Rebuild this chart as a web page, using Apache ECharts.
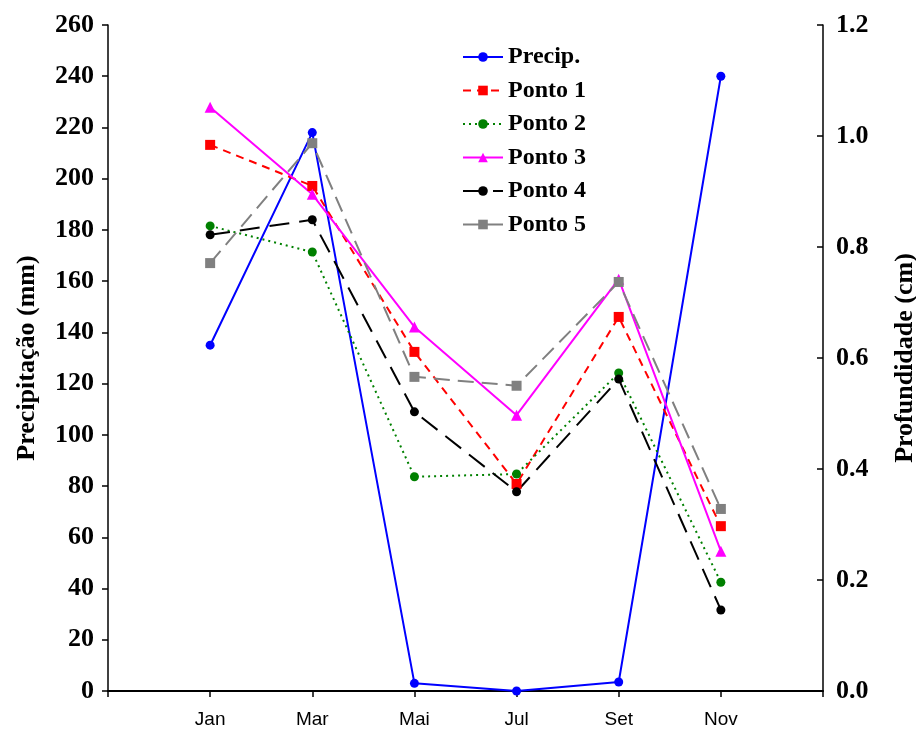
<!DOCTYPE html>
<html>
	<head>
		<meta charset="utf-8">
		<title></title>
		<script src='https://cdn.jsdelivr.net/npm/echarts@6/dist/echarts.min.js'></script>
		<style>
			body{ margin:0; background:#fff; }
			#chart{
				width: 916px;
				height: 729px;
			}
		</style>
	</head>
	<body>
		<div id="chart"></div>
		<script>
            // months (x positions 1..6 inside a 0..7 axis)
            const months = ['Jan', 'Mar', 'Mai', 'Jul', 'Set', 'Nov'];
            // precipitação (mm), left axis
            const precip = [135, 218, 3, 0, 3.5, 240];
            // profundidade (cm), right axis
            const ponto1 = [0.984, 0.910, 0.611, 0.373, 0.674, 0.297];
            const ponto2 = [0.838, 0.791, 0.386, 0.391, 0.573, 0.196];
            const ponto3 = [1.052, 0.895, 0.656, 0.497, 0.742, 0.252];
            const ponto4 = [0.822, 0.849, 0.503, 0.359, 0.562, 0.146];
            const ponto5 = [0.771, 0.987, 0.566, 0.550, 0.737, 0.328];

            const pairs = arr => arr.map((v, i) => [i + 1, v]);
            const serif = "'Liberation Serif', 'DejaVu Serif', serif";

			const chartDom = document.getElementById('chart');
			const chart = echarts.init(chartDom, null, {renderer:'canvas'});

            function line(name, data, yIndex, color, type, symbol, size){
                return {
                    name: name,
                    type: 'line',
                    yAxisIndex: yIndex,
                    data: pairs(data),
                    symbol: symbol,
                    symbolSize: size,
                    itemStyle: { color: color },
                    lineStyle: { color: color, width: 2, type: type },
                    emphasis: { disabled: true }
                };
            }

            option = {
                        animation: false,
                        grid: { left: 108, right: 93, top: 25, bottom: 38, outerBoundsMode: 'none' },
                        legend: {
                            orient: 'vertical',
                            left: 462,
                            top: 45,
                            padding: 0,
                            itemWidth: 40,
                            itemHeight: 12,
                            itemGap: 9.5,
                            textStyle: { fontFamily: serif, fontWeight: 'bold', fontSize: 24, color: '#000' },
                            data: ['Precip.', 'Ponto 1', 'Ponto 2', 'Ponto 3', 'Ponto 4', 'Ponto 5']
                        },
                        xAxis: {
                            type: 'value',
                            min: 0,
                            max: 7,
                            interval: 1,
                            axisLine: { lineStyle: { color: '#000', width: 2 } },
                            axisTick: { show: true, length: 6, lineStyle: { color: '#000', width: 1.5 } },
                            splitLine: { show: false },
                            axisLabel: {
                                margin: 19,
                                fontFamily: "'Liberation Sans', Arial, sans-serif",
                                fontSize: 19,
                                color: '#000',
                                formatter: v => months[v - 1] || ''
                            }
                        },
                        yAxis: [
                            {
                                type: 'value',
                                min: 0,
                                max: 260,
                                interval: 20,
                                name: 'Precipitação (mm)',
                                nameLocation: 'middle',
                                nameRotate: 90,
                                nameGap: 68,
                                nameTextStyle: { fontFamily: serif, fontWeight: 'bold', fontSize: 26, color: '#000' },
                                axisLine: { show: true, lineStyle: { color: '#000', width: 1.5 } },
                                axisTick: { show: true, length: 6, lineStyle: { color: '#000', width: 1.5 } },
                                splitLine: { show: false },
                                axisLabel: { margin: 14, fontFamily: serif, fontWeight: 'bold', fontSize: 26, color: '#000' }
                            },
                            {
                                type: 'value',
                                position: 'right',
                                min: 0,
                                max: 1.2,
                                interval: 0.2,
                                name: 'Profundidade (cm)',
                                nameLocation: 'middle',
                                nameRotate: 90,
                                nameGap: 69,
                                nameTextStyle: { fontFamily: serif, fontWeight: 'bold', fontSize: 26, color: '#000' },
                                axisLine: { show: true, lineStyle: { color: '#000', width: 1.5 } },
                                axisTick: { show: true, inside: true, length: 6, lineStyle: { color: '#000', width: 1.5 } },
                                splitLine: { show: false },
                                axisLabel: {
                                    margin: 13,
                                    fontFamily: serif, fontWeight: 'bold', fontSize: 26, color: '#000',
                                    formatter: v => v.toFixed(1)
                                }
                            }
                        ],
                        series: [
                            line('Precip.', precip, 0, '#0000ff', 'solid', 'circle', 9),
                            line('Ponto 1', ponto1, 1, '#ff0000', [8, 6], 'rect', 10),
                            line('Ponto 2', ponto2, 1, '#008000', [2, 4], 'circle', 9),
                            line('Ponto 3', ponto3, 1, '#ff00ff', 'solid', 'triangle', 11),
                            line('Ponto 4', ponto4, 1, '#000000', [20, 10], 'circle', 9),
                            line('Ponto 5', ponto5, 1, '#808080', [16, 8], 'rect', 10)
                        ]
                    };
			chart.setOption(option);
		</script>
	</body>
</html>
